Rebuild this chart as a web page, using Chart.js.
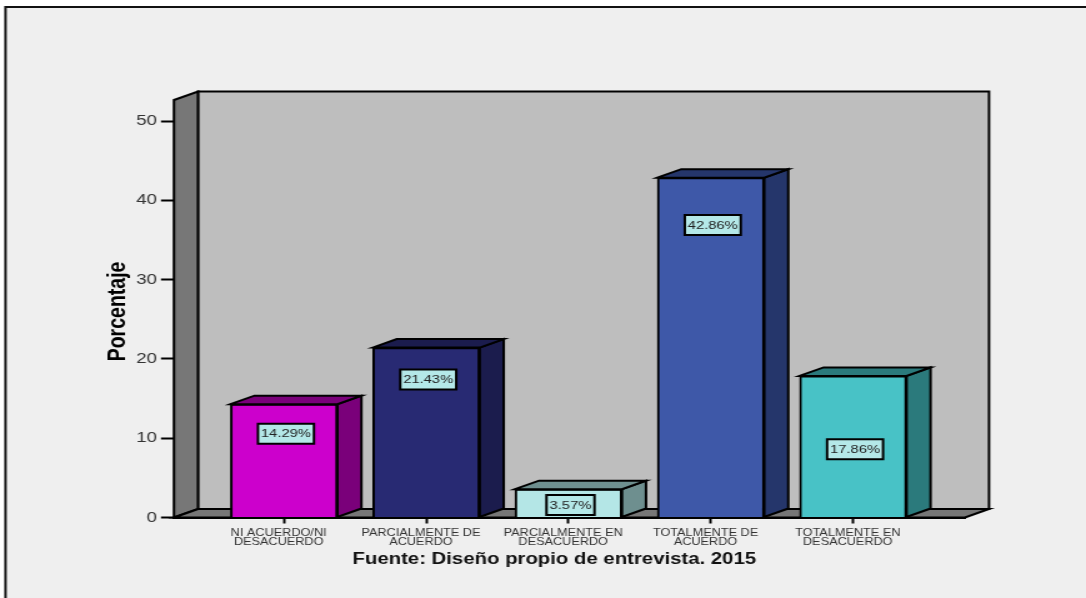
<!DOCTYPE html>
<html>
<head>
<meta charset="utf-8">
<style>
  html, body { margin: 0; padding: 0; background: #ffffff; overflow: hidden; }
  /* the chart is drawn narrow and widened, so the text comes out extended */
  #box { position: absolute; left: 0; top: 0; width: 869px; height: 598px; transform: scaleX(1.24971); transform-origin: 0 0; }
</style>
<script src="https://cdn.jsdelivr.net/npm/chart.js@4/dist/chart.umd.min.js"></script>
</head>
<body>
<div id="box"><canvas id="myChart" width="869" height="598"></canvas></div>
<script>
const categorias = [
  ['NI ACUERDO/NI', 'DESACUERDO'],
  ['PARCIALMENTE DE', 'ACUERDO'],
  ['PARCIALMENTE EN', 'DESACUERDO'],
  ['TOTALMENTE DE', 'ACUERDO'],
  ['TOTALMENTE EN', 'DESACUERDO']
];
const porcentajes = [14.29, 21.43, 3.57, 42.86, 17.86];
const etiquetas = ['14.29%', '21.43%', '3.57%', '42.86%', '17.86%'];
// height of each label box, in axis units
const alturaEtiqueta = [10.57, 17.4, 1.58, 36.9, 8.6];
const ticksY = [0, 10, 20, 30, 40, 50];

const coloresFrente = ['#cc00cc', '#282a73', '#b4e6e6', '#3e58a8', '#48c2c6'];
const coloresLado = ['#7a007a', '#1b1c4d', '#6e8f8f', '#25366b', '#2b7a7c'];

const PROF_X = 19.2, PROF_Y = 8.5;
const FUENTE = '"Liberation Sans", Arial, sans-serif';

function poly(ctx, pts, fill) {
  ctx.beginPath();
  ctx.moveTo(pts[0][0], pts[0][1]);
  for (let i = 1; i < pts.length; i++) ctx.lineTo(pts[i][0], pts[i][1]);
  ctx.closePath();
  if (fill) { ctx.fillStyle = fill; ctx.fill(); }
  ctx.stroke();
}

// page background and the frame line at top and left
const fondo = {
  id: 'fondo',
  beforeDraw(chart) {
    const c = chart.ctx;
    c.save();
    c.fillStyle = '#efefef';
    c.fillRect(5, 8, chart.width, chart.height);
    c.strokeStyle = '#111';
    c.lineWidth = 2;
    c.beginPath();
    c.moveTo(4.4, chart.height);
    c.lineTo(4.4, 7);
    c.lineTo(chart.width, 7);
    c.stroke();
    c.restore();
  },
  // source line under the axis, a little left of the axis centre
  afterDraw(chart) {
    const c = chart.ctx;
    c.save();
    c.fillStyle = '#111';
    c.font = 'bold 16.3px ' + FUENTE;
    c.textAlign = 'center';
    c.textBaseline = 'middle';
    c.fillText('Fuente: Diseño propio de entrevista. 2015', chart.scales.x.getPixelForValue(1.9), 560);
    c.restore();
  }
};

// walls and floor behind the bars
const caja3d = {
  id: 'caja3d',
  beforeDatasetsDraw(chart) {
    const c = chart.ctx, a = chart.chartArea;
    c.save();
    c.strokeStyle = '#000';
    c.lineWidth = 2;
    poly(c, [[a.left + PROF_X, a.top - PROF_Y], [a.right + PROF_X, a.top - PROF_Y],
             [a.right + PROF_X, a.bottom - PROF_Y], [a.left + PROF_X, a.bottom - PROF_Y]], '#bebebe');
    poly(c, [[a.left, a.top], [a.left + PROF_X, a.top - PROF_Y],
             [a.left + PROF_X, a.bottom - PROF_Y], [a.left, a.bottom]], '#777777');
    poly(c, [[a.left, a.bottom], [a.left + PROF_X, a.bottom - PROF_Y],
             [a.right + PROF_X, a.bottom - PROF_Y], [a.right, a.bottom]], '#777777');
    c.restore();
  },
  afterDatasetsDraw(chart) {
    const c = chart.ctx;
    const y = chart.scales.y;
    c.save();
    c.strokeStyle = '#000';
    c.lineWidth = 2;
    // side and top faces of each bar
    chart.getDatasetMeta(0).data.forEach((bar, i) => {
      const p = bar.getProps(['x', 'y', 'base', 'width'], true);
      const l = p.x - p.width / 2, r = p.x + p.width / 2;
      poly(c, [[r, p.y], [r + PROF_X, p.y - PROF_Y], [r + PROF_X, p.base - PROF_Y], [r, p.base]], coloresLado[i]);
      poly(c, [[l, p.y], [l + PROF_X, p.y - PROF_Y], [r + PROF_X, p.y - PROF_Y], [r, p.y]], coloresLado[i]);
    });
    // value labels
    chart.getDatasetMeta(0).data.forEach((bar, i) => {
      const cx = bar.x + 1.6, cy = y.getPixelForValue(alturaEtiqueta[i]);
      const w = etiquetas[i].length === 5 ? 38.4 : 44.8, h = 20;
      c.fillStyle = '#b4e8e8';
      c.lineWidth = 2;
      c.strokeStyle = '#000';
      c.beginPath();
      c.rect(cx - w / 2, cy - h / 2, w, h);
      c.fill();
      c.stroke();
      c.fillStyle = '#222';
      c.font = '11.8px ' + FUENTE;
      c.textAlign = 'center';
      c.textBaseline = 'middle';
      c.fillText(etiquetas[i], cx, cy + 0.5);
    });
    c.restore();
  }
};

const ctx = document.getElementById('myChart').getContext('2d');

const chart = new Chart(ctx, {
  type: 'bar',
  data: {
    datasets: [{
      data: porcentajes.map((v, i) => ({ x: i, y: v })),
      backgroundColor: coloresFrente,
      borderColor: '#000',
      borderWidth: 2,
      barThickness: 85.6
    }]
  },
  plugins: [fondo, caja3d],
  options: {
    responsive: false,
    animation: false,
    layout: { padding: { left: 20, right: 96.8, top: 100, bottom: 47 } },
    plugins: {
      legend: { display: false },
      tooltip: { enabled: false }
    },
    scales: {
      x: {
        type: 'linear',
        offset: false,
        min: -0.773,
        max: 4.787,
        afterBuildTicks(scale) {
          scale.ticks = categorias.map((c, i) => ({ value: i }));
        },
        afterFit(scale) { scale.height = 33.5; },
        grid: { offset: false, drawOnChartArea: false, tickLength: 6, tickColor: '#000', tickWidth: 2 },
        border: { display: true, color: '#000', width: 2 },
        ticks: {
          autoSkip: false,
          maxRotation: 0,
          padding: 5.5,
          color: '#333',
          font: { family: FUENTE, size: 10.17, lineHeight: 0.885 },
          // trailing spaces pull the centred text slightly left of its tick
          callback: (v) => categorias[v].map((s) => s + '   ')
        }
      },
      y: {
        min: 0,
        max: 52.65,
        afterBuildTicks(scale) {
          scale.ticks = ticksY.map((v) => ({ value: v }));
        },
        afterFit(scale) { scale.width = 119.2; },
        grid: { drawOnChartArea: false, tickLength: 10.4, tickColor: '#000', tickWidth: 2 },
        border: { display: false },
        ticks: {
          padding: 3.2,
          color: '#333',
          font: { family: FUENTE, size: 15 }
        },
        title: {
          display: true,
          text: 'Porcentaje ',
          color: '#000',
          padding: { top: 62.8, bottom: 0 },
          font: { family: FUENTE, size: 19.5, weight: 'bold' }
        }
      }
    }
  }
});
</script>
</body>
</html>
